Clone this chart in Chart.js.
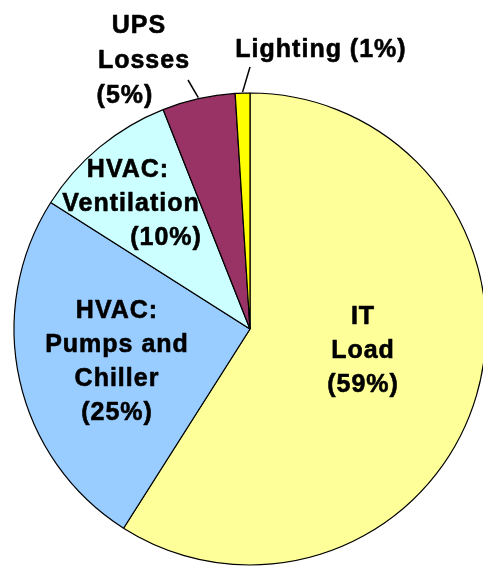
<!DOCTYPE html>
<html>
<head>
<meta charset="utf-8">
<script src="https://cdn.jsdelivr.net/npm/chart.js@4/dist/chart.umd.min.js"></script>
<style>
  html, body { margin: 0; padding: 0; background: #ffffff; overflow: hidden; }
  #c { display: block; }
</style>
</head>
<body>
<canvas id="c" width="483" height="568"></canvas>
<script>
// ---- data ----
const categories = ["IT Load", "HVAC: Pumps and Chiller", "HVAC: Ventilation", "UPS Losses", "Lighting"];
const shares = [59, 25, 10, 5, 1];
const sliceColors = ["#FFFF99", "#99CCFF", "#CCFFFF", "#993366", "#FFFF00"];
const labelLines = [
  ["IT", "Load", "(59%)"],
  ["HVAC:", "Pumps and", "Chiller", "(25%)"],
  ["HVAC:", "Ventilation", "(10%)"],
  ["UPS", "Losses", "(5%)"],
  ["Lighting (1%)"]
];

// ---- label layout (text placement only) ----
const labelLayout = [
  { xs: [363, 363, 363], ys: [324, 358, 392] },
  { xs: [117, 117, 117, 117], ys: [318, 352, 386, 420] },
  { xs: [128, 131, 166], ys: [177, 211, 245] },
  { xs: [139, 144, 125], ys: [33, 68, 103] },
  { xs: [321], ys: [57] }
];
const leaderEnds = { 3: [188, 80], 4: [250, 67] };

const labelPlugin = {
  id: 'sliceLabels',
  afterDatasetsDraw(chart) {
    const ctx = chart.ctx;
    const meta = chart.getDatasetMeta(0);
    ctx.save();
    // leader lines
    ctx.strokeStyle = '#000';
    ctx.lineWidth = 1.5;
    Object.keys(leaderEnds).forEach(k => {
      const arc = meta.data[+k];
      const mid = (arc.startAngle + arc.endAngle) / 2;
      const sx = arc.x + Math.cos(mid) * (arc.outerRadius + 1);
      const sy = arc.y + Math.sin(mid) * (arc.outerRadius + 1);
      ctx.beginPath();
      ctx.moveTo(sx, sy);
      ctx.lineTo(leaderEnds[k][0], leaderEnds[k][1]);
      ctx.stroke();
    });
    // text
    ctx.fillStyle = '#000';
    ctx.strokeStyle = '#000';
    ctx.lineWidth = 0.6;
    ctx.lineJoin = 'round';
    ctx.font = 'bold 25px "Liberation Sans", Arial, sans-serif';
    ctx.textAlign = 'center';
    ctx.textBaseline = 'alphabetic';
    try { ctx.letterSpacing = '1px'; } catch (e) {}
    labelLines.forEach((lines, i) => {
      const lay = labelLayout[i];
      lines.forEach((t, j) => {
        ctx.fillText(t, lay.xs[j], lay.ys[j]);
        ctx.strokeText(t, lay.xs[j], lay.ys[j]);
      });
    });
    ctx.restore();
  }
};

new Chart(document.getElementById('c'), {
  type: 'pie',
  data: {
    labels: categories,
    datasets: [{
      data: shares,
      backgroundColor: sliceColors,
      borderColor: '#000000',
      borderWidth: 1.2,
      radius: 236
    }]
  },
  options: {
    responsive: false,
    animation: false,
    layout: { padding: { left: 17, right: 0, top: 90, bottom: 0 } },
    plugins: {
      legend: { display: false },
      tooltip: { enabled: false },
      title: { display: false }
    }
  },
  plugins: [labelPlugin]
});
</script>
</body>
</html>
